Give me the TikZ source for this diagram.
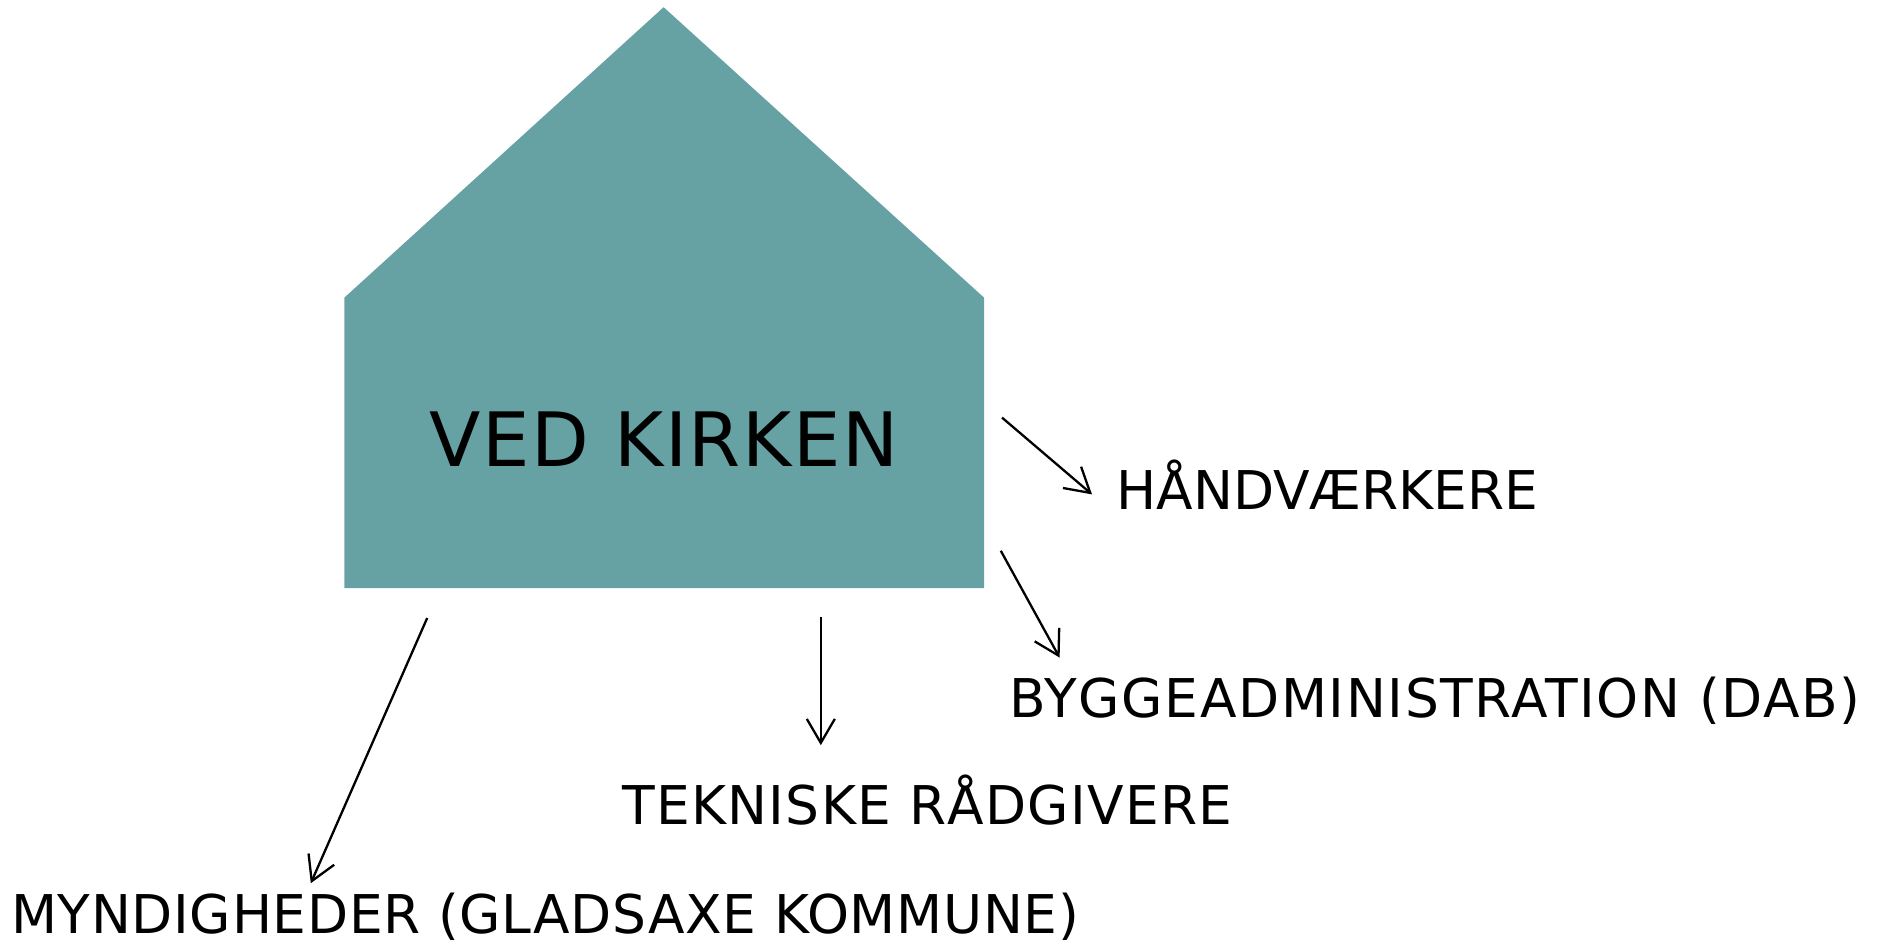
\documentclass[tikz,border=0pt]{standalone}
\usepackage{fontspec}
\setmainfont{DejaVu Sans}
\usetikzlibrary{arrows.meta,positioning}
\definecolor{petrole}{RGB}{102,162,164}
\tikzset{
  etiquette/.style={anchor=base west,inner sep=0pt,font=\fontsize{26.7}{32}\selectfont},
  fleche/.style={line width=1.15pt,-{Straight Barb[length=12pt,width=14pt]}}
}

\begin{document}
\begin{tikzpicture}[x=0.5pt,y=-0.5pt]
  \useasboundingbox (0,0) rectangle (1882,945);
  % maison
  \fill[petrole] (344.4,588) -- (344.4,297.6) -- (663.6,7.2) -- (984,297.6) -- (984,588) -- cycle;
  \node[anchor=base,inner sep=0pt,font=\fontsize{37.5}{45}\selectfont\addfontfeature{LetterSpace=2.0}] (titre) at (664,466.8) {VED KIRKEN};
  % acteurs
  \node[etiquette] (hv) at (1116,510) {HÅNDVÆRKERE};
  \node[etiquette,font=\fontsize{26.7}{32}\selectfont\addfontfeature{LetterSpace=3.0}] (dab) at (1009,717.6) {BYGGEADMINISTRATION (DAB)};
  \node[etiquette,font=\fontsize{26.7}{32}\selectfont\addfontfeature{LetterSpace=2.4}] (rad) at (622,824.4) {TEKNISKE RÅDGIVERE};
  \node[etiquette,font=\fontsize{26.7}{32}\selectfont\addfontfeature{LetterSpace=1.3}] (myn) at (10.6,933.6) {MYNDIGHEDER (GLADSAXE KOMMUNE)};
  % bouts des flèches
  \coordinate (hv-a) at (1002,417.6);
  \coordinate (hv-b) at (1092,494.4);
  \coordinate (dab-a) at (1000.8,550.8);
  \coordinate (dab-b) at (1059.6,657.6);
  \coordinate (rad-a) at (820.8,616.8);
  \coordinate (rad-b) at (820.8,745.2);
  \coordinate (myn-a) at (427.2,618);
  \coordinate (myn-b) at (310.8,883.2);
  \draw[fleche] (hv-a) -- (hv-b);
  \draw[fleche] (dab-a) -- (dab-b);
  \draw[fleche] (rad-a) -- (rad-b);
  \draw[fleche] (myn-a) -- (myn-b);
\end{tikzpicture}
\end{document}
